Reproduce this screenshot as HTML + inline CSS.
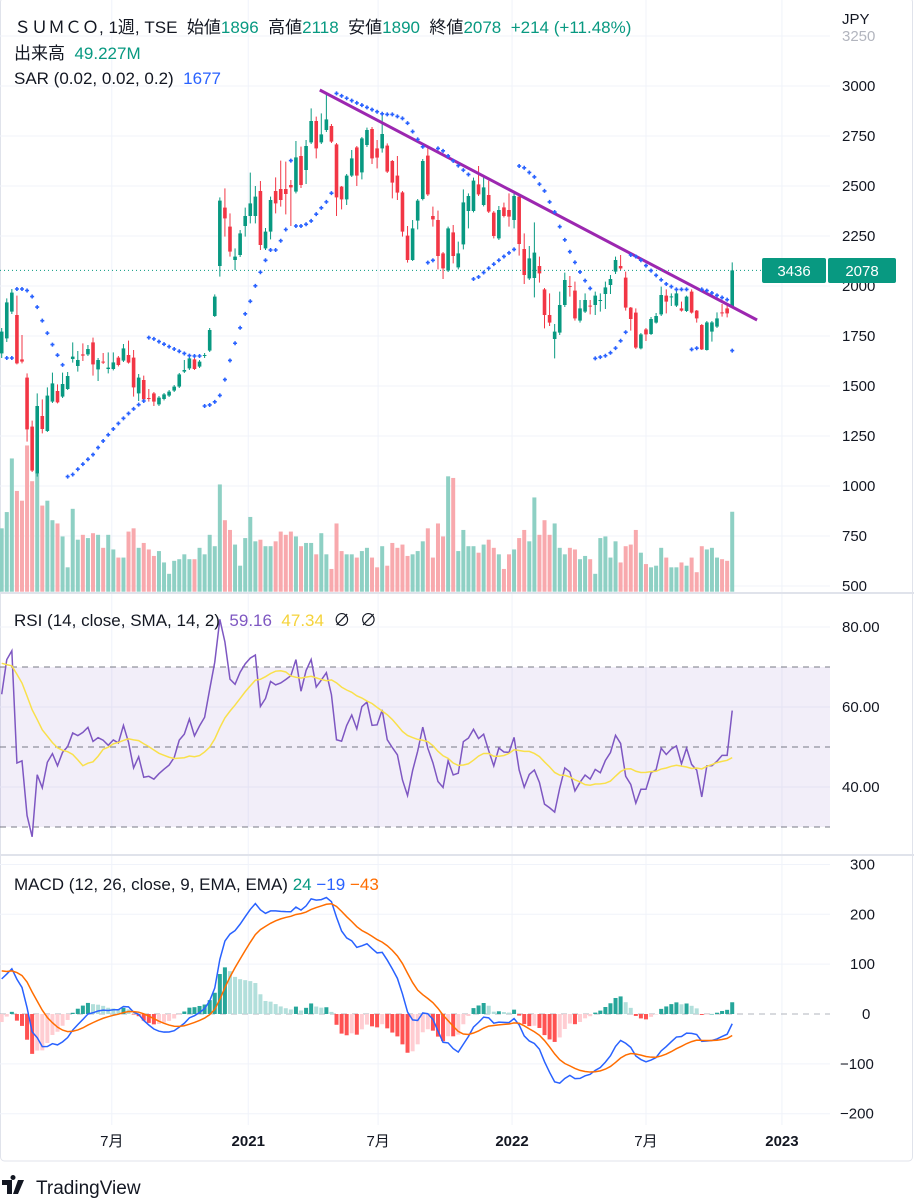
<!DOCTYPE html>
<html><head><meta charset="utf-8">
<style>
html,body{margin:0;padding:0;background:#fff;}
svg{display:block;font-family:"Liberation Sans","Noto Sans CJK JP",sans-serif;}
</style></head>
<body>
<svg id="chart" width="914" height="1200" viewBox="0 0 914 1200" xmlns="http://www.w3.org/2000/svg">
<rect x="0.5" y="-2" width="912" height="1163" rx="4" fill="#fff" stroke="#e0e3eb"/>
<g id="grid"></g>
<g id="rsiBand"></g>
<g id="vol"></g>
<g id="candles"></g>
<g id="sar"></g>
<g id="rsi"></g>
<g id="macd"></g>
<g id="axes"></g>
<line x1="0" y1="593" x2="914" y2="593" stroke="#e0e3eb" stroke-width="2"/>
<line x1="0" y1="855" x2="914" y2="855" stroke="#e0e3eb" stroke-width="2"/>
<g font-size="17" fill="#131722">
<text x="14" y="33">ＳＵＭＣＯ, 1週, TSE &#160;始値<tspan fill="#089981">1896</tspan>&#160; 高値<tspan fill="#089981">2118</tspan>&#160; 安値<tspan fill="#089981">1890</tspan>&#160; 終値<tspan fill="#089981">2078</tspan>&#160; <tspan fill="#089981">+214 (+11.48%)</tspan></text>
<text x="14" y="59">出来高 &#160;<tspan fill="#089981">49.227M</tspan></text>
<text x="14" y="84">SAR (0.02, 0.02, 0.2) &#160;<tspan fill="#2962ff">1677</tspan></text>
</g>
<text x="14" y="626" font-size="17" fill="#131722">RSI (14, close, SMA, 14, 2) &#160;<tspan fill="#7e57c2">59.16</tspan>&#160; <tspan fill="#f5d33a">47.34</tspan>&#160; ∅ &#160;∅</text>
<text x="14" y="890" font-size="17" fill="#131722">MACD (12, 26, close, 9, EMA, EMA) <tspan fill="#089981">24</tspan> <tspan fill="#2962ff">−19</tspan> <tspan fill="#ff6d00">−43</tspan></text>
<text x="842" y="24" font-size="15" fill="#131722">JPY</text>
<g>
<path d="M2 1180h10v14h-5v-9H2z M13 1180a2.5 2.5 0 1 1 0.01 0z M18 1180h6l-6 14h-5z" fill="#131722"/>
<text x="36" y="1194" font-size="19" fill="#131722">TradingView</text>
</g>
</svg>
<script>
// ---- data ----
const openP=[1663,1738,1872,1855,1633,1542,1297,1063,1350,1275,1422,1475,1447,1485,1635,1600,1658,1658,1718,1583,1622,1585,1585,1642,1627,1655,1642,1463,1530,1440,1463,1408,1435,1452,1477,1497,1572,1588,
1633,1597,1650,1677,1850,2100,2392,2297,2130,2155,2300,2350,2350,2475,2188,2272,2475,2485,2485,2505,2472,2650,2580,2718,2825,2718,2780,2800,2708,2497,2433,2552,2693,2568,2705,2785,
2688,2688,2702,2625,2552,2468,2252,2130,2327,2435,2652,2350,2330,2163,2077,2268,2093,2208,2375,2375,2508,2405,2455,2367,2238,2393,2380,2330,2447,2185,2038,2040,2100,1983,1855,1735,
1767,1905,2000,1977,1827,1872,1902,1905,1928,1960,2005,2072,2100,2042,1892,1867,1688,1783,1760,1817,1858,1952,1946,1902,1888,1875,1972,1877,1805,1680,1772,1797,1868,1888,1896];
const highP=[1790,1938,1985,1952,1755,1563,1327,1463,1433,1493,1567,1508,1567,1570,1718,1675,1713,1705,1742,1640,1665,1668,1668,1650,1710,1727,1680,1560,1552,1485,1470,1450,1465,1480,1505,1565,1630,1650,
1645,1630,1665,1790,1958,2443,2488,2363,2188,2280,2392,2567,2500,2525,2290,2447,2543,2627,2622,2530,2725,2697,2730,2888,2847,2863,2963,2810,2715,2500,2560,2680,2700,2745,2792,2795,
2730,2858,2713,2630,2650,2475,2300,2330,2435,2635,2688,2397,2377,2170,2297,2305,2222,2483,2463,2542,2600,2547,2527,2375,2400,2417,2463,2463,2455,2263,2200,2318,2147,1990,1963,1810,
1972,2067,2050,2022,1930,1963,1930,1972,1963,2022,2055,2147,2155,2072,1895,1888,1765,1790,1845,1865,1997,1983,1963,1983,1922,1952,1983,1880,1810,1825,1825,1868,1910,1910,2118];
const lowP=[1640,1720,1860,1608,1613,1222,1070,1047,1263,1270,1415,1413,1440,1480,1617,1572,1625,1650,1552,1525,1610,1563,1578,1598,1620,1612,1447,1425,1425,1422,1400,1400,1428,1445,1470,1490,1565,1580,
1580,1590,1640,1670,1845,2047,2247,2147,2080,2145,2247,2313,2313,2180,2180,2233,2363,2397,2358,2300,2463,2490,2510,2710,2638,2710,2770,2715,2350,2383,2405,2545,2500,2533,2695,2610,
2588,2667,2565,2438,2430,2247,2117,2125,2283,2428,2450,2297,2083,2035,2070,2113,2083,2183,2288,2368,2450,2398,2365,2238,2230,2343,2297,2288,2152,2010,2030,1943,2017,1788,1800,1638,
1755,1895,1947,1827,1817,1865,1858,1855,1872,1885,1960,2060,2080,1877,1777,1685,1683,1725,1755,1812,1850,1863,1900,1895,1872,1870,1862,1817,1680,1677,1722,1790,1847,1843,1890];
const closeP=[1772,1918,1967,1613,1622,1283,1077,1400,1285,1452,1513,1418,1510,1550,1647,1630,1652,1685,1608,1630,1617,1592,1618,1605,1688,1617,1493,1542,1433,1437,1422,1442,1458,1472,1497,1558,1580,1638,
1585,1622,1655,1780,1947,2427,2338,2172,2147,2263,2350,2413,2447,2205,2272,2430,2413,2430,2460,2493,2643,2505,2700,2825,2688,2758,2833,2722,2443,2433,2552,2638,2552,2738,2780,2638,
2642,2760,2572,2517,2467,2272,2130,2288,2427,2625,2458,2333,2150,2088,2288,2150,2163,2418,2450,2527,2458,2493,2372,2250,2380,2350,2347,2450,2210,2055,2138,2167,2063,1855,1817,1772,
1905,2030,1997,1838,1888,1930,1900,1952,1930,1993,2035,2130,2088,1892,1835,1692,1758,1758,1835,1850,1955,1922,1948,1963,1877,1947,1867,1838,1683,1818,1818,1838,1863,1863,2078];
const volumeM=[39,49,82,62,56,90,68,73,53,56,44,42,34,15,51,32,35,33,36,35,27,35,26,21,21,37,39,27,30,26,22,25,18,11,19,20,23,20,
20,27,23,35,28,66,44,38,29,16,33,46,31,32,28,28,31,37,35,37,34,28,30,30,23,36,23,14,42,25,23,23,21,25,27,21,
15,28,16,30,27,29,22,23,25,31,39,21,42,34,71,70,25,38,28,28,24,29,32,27,23,14,23,26,33,38,31,58,35,44,35,42,
27,23,27,26,20,22,20,11,33,34,21,31,18,28,29,38,24,17,15,16,27,21,15,15,18,16,21,12,28,26,27,21,20,19,49.2];
const warmupCloses=[1250,1230,1280,1310,1290,1260,1300,1340,1320,1370,1400,1380,1420,1450,1430,1480,1510,1500,1540,1570,1550,1600,1620,1590,1640,1680,1660,1700,1740,1720,1760,1790,1770,1810,1800,1760,1790,1740,1700,1680];
const priceTicks=[3250,3000,2750,2500,2250,2000,1750,1500,1250,1000,750,500];
const rsiTicks=[80,60,40];
const macdTicks=[300,200,100,0,-100,-200];
const timeLabels=["7月","2021","7月","2022","7月","2023"];
const timeLabelIdx=[21.7,48.6,74.2,100.6,127,153.8];
const timeLabelBold=[false,true,false,true,false,true];
const trendIdx=[62.7,148.9];
const trendPrice=[2980,1830];
const lastPrice=2078;

// ---- scales ----
const N=closeP.length;
const xOf=i=>1.7+i*5.073;
const yP=p=>86+(3000-p)*0.2;
const yV=v=>591.7-v*1.625;
const yR=r=>627+(80-r)*4;
const yM=m=>1014-m*0.4985;
const NS="http://www.w3.org/2000/svg";
function mk(tag,attrs,parent){const e=document.createElementNS(NS,tag);for(const k in attrs)e.setAttribute(k,attrs[k]);parent.appendChild(e);return e;}
const G=id=>document.getElementById(id);

// ---- indicators ----
const all=warmupCloses.concat(closeP);
function ema(arr,n){const k=2/(n+1);let out=[],v=arr[0];for(let i=0;i<arr.length;i++){v=i?arr[i]*k+v*(1-k):arr[i];out.push(v);}return out;}
const e12=ema(all,12),e26=ema(all,26);
const macdAll=e12.map((v,i)=>v-e26[i]);
const sigAll=ema(macdAll,9);
const off=warmupCloses.length;
const macdV=macdAll.slice(off),sigV=sigAll.slice(off),histV=macdV.map((v,i)=>v-sigV[i]);
let rsiAll=[],ag=0,al=0;
for(let i=1;i<all.length;i++){const d=all[i]-all[i-1];const g=Math.max(d,0),l=Math.max(-d,0);
 if(i<=14){ag+=g/14;al+=l/14;}else{ag=(ag*13+g)/14;al=(al*13+l)/14;}
 rsiAll[i]=al===0?100:100-100/(1+ag/al);}
const rsiV=rsiAll.slice(off);
const rsiMaAll=rsiAll.map((v,i)=>{if(i<14)return null;let s=0;for(let j=i-13;j<=i;j++)s+=rsiAll[j];return s/14;});
const rsiMa=rsiMaAll.slice(off);
// parabolic SAR
let sarV=[];{let up=true,af=0.02,ep=highP[0],sar=lowP[0];
 for(let i=0;i<N;i++){
  if(i>0){sar=sar+af*(ep-sar);
   if(up){sar=Math.min(sar,lowP[i-1],i>1?lowP[i-2]:lowP[i-1]);
    if(lowP[i]<sar){up=false;sar=ep;ep=lowP[i];af=0.02;}
    else if(highP[i]>ep){ep=highP[i];af=Math.min(af+0.02,0.2);}}
   else{sar=Math.max(sar,highP[i-1],i>1?highP[i-2]:highP[i-1]);
    if(highP[i]>sar){up=true;sar=ep;ep=highP[i];af=0.02;}
    else if(lowP[i]<ep){ep=lowP[i];af=Math.min(af+0.02,0.2);}}}
  sarV.push({v:sar,up:up});}
}

// ---- grid ----
const grid=G('grid');
priceTicks.forEach(p=>{const l=mk('line',{x1:0,x2:830,y1:yP(p),y2:yP(p),stroke:'#f0f3fa'},grid);

});
rsiTicks.forEach(r=>{const l=mk('line',{x1:0,x2:830,y1:yR(r),y2:yR(r),stroke:'#f0f3fa'},grid);

});
macdTicks.forEach(m=>{if(m===0)return;const l=mk('line',{x1:0,x2:830,y1:yM(m),y2:yM(m),stroke:'#f0f3fa'},grid);

});
timeLabelIdx.forEach(ix=>{const l=mk('line',{x1:xOf(ix),x2:xOf(ix),y1:0,y2:1125,stroke:'#f0f3fa'},grid);

});

// ---- RSI band ----
const band=G('rsiBand');
const br=mk('rect',{x:0,y:yR(70),width:830,height:yR(30)-yR(70),fill:'rgba(126,87,194,0.1)'},band);


[70,50,30].forEach(r=>{const l=mk('line',{x1:0,x2:830,y1:yR(r),y2:yR(r),stroke:'#787b86','stroke-dasharray':'6 5'},band);

});

// ---- volume ----
const vol=G('vol');
for(let i=0;i<N;i++){const up=closeP[i]>=openP[i];
 const r=mk('rect',{x:xOf(i)-2,y:yV(volumeM[i]),width:4,height:yV(0)-yV(volumeM[i]),fill:up?'#8ed0c4':'#f8a9ad'},vol);
 
 }

// ---- candles ----
const cg=G('candles');
for(let i=0;i<N;i++){const up=closeP[i]>=openP[i];const col=up?'#089981':'#f23645';const x=xOf(i);
 const g=mk('g',{},cg);
 
 
 mk('line',{x1:x,x2:x,y1:yP(highP[i]),y2:yP(lowP[i]),stroke:col,'stroke-width':1},g);
 const t=yP(Math.max(openP[i],closeP[i])),b=yP(Math.min(openP[i],closeP[i]));
 mk('rect',{x:x-1.8,y:t,width:3.6,height:Math.max(b-t,1),fill:col},g);}

// trend line & last price line
const tl=mk('line',{x1:xOf(trendIdx[0]),y1:yP(trendPrice[0]),x2:xOf(trendIdx[1]),y2:yP(trendPrice[1]),stroke:'#9c27b0','stroke-width':3},cg);


const pl=mk('line',{x1:0,x2:830,y1:yP(lastPrice),y2:yP(lastPrice),stroke:'#089981','stroke-dasharray':'1 3'},cg);



// ---- SAR ----
const sg=G('sar');
sarV.forEach((s,i)=>{if(i===0)return;const x=xOf(i),y=yP(s.v);
 const p=mk('path',{d:`M${x-2} ${y}h4M${x} ${y-2}v4`,stroke:'#2962ff','stroke-width':1.6},sg);
 
 });

// ---- RSI lines ----
const rg=G('rsi');
const rp=mk('path',{d:rsiV.map((v,i)=>(i?'L':'M')+xOf(i)+' '+yR(v)).join(''),fill:'none',stroke:'#7e57c2','stroke-width':1.5},rg);


const rm=mk('path',{d:rsiMa.map((v,i)=>(i?'L':'M')+xOf(i)+' '+yR(v)).join(''),fill:'none',stroke:'#f9e04b','stroke-width':1.5},rg);



// ---- MACD ----
const mg=G('macd');
const zl=mk('line',{x1:0,x2:830,y1:yM(0),y2:yM(0),stroke:'#b2b5be','stroke-dasharray':'6 5'},mg);


histV.forEach((h,i)=>{const prev=i?histV[i-1]:h;let col;
 if(h>=0)col=h>=prev?'#26a69a':'#b2dfdb';else col=h<prev?'#ff5252':'#ffcdd2';
 const y0=yM(0),y1=yM(h);
 const r=mk('rect',{x:xOf(i)-2,y:Math.min(y0,y1),width:4,height:Math.max(Math.abs(y1-y0),0.5),fill:col},mg);
 
 });
const ml=mk('path',{d:macdV.map((v,i)=>(i?'L':'M')+xOf(i)+' '+yM(v)).join(''),fill:'none',stroke:'#2962ff','stroke-width':1.5},mg);


const sl=mk('path',{d:sigV.map((v,i)=>(i?'L':'M')+xOf(i)+' '+yM(v)).join(''),fill:'none',stroke:'#ff6d00','stroke-width':1.5},mg);



// ---- axes labels ----
const ax=G('axes');
priceTicks.forEach(p=>{const t=mk('text',{x:842,y:yP(p)+5,'font-size':15,fill:p===3250?'#b2b5be':'#131722'},ax);t.textContent=p;

});
rsiTicks.forEach(r=>{const t=mk('text',{x:842,y:yR(r)+5,'font-size':15,fill:'#131722'},ax);t.textContent=r.toFixed(2);

});
macdTicks.forEach(m=>{const t=mk('text',{x:m<0?840:(m===0?862:850),y:yM(m)+5,'font-size':15,fill:'#131722'},ax);t.textContent=m<0?'−'+(-m):m;

});
timeLabels.forEach((s,k)=>{const t=mk('text',{x:xOf(timeLabelIdx[k]),y:1146,'font-size':15,'text-anchor':'middle',fill:'#131722','font-weight':timeLabelBold[k]?'bold':'normal'},ax);t.textContent=s;

});
// last price tags
const b1=mk('rect',{x:762,y:258,width:64,height:25,rx:2,fill:'#089981'},ax);


const t1=mk('text',{x:794,y:276,'font-size':15,fill:'#fff','text-anchor':'middle'},ax);t1.textContent='3436';


const b2=mk('rect',{x:828,y:258,width:68,height:25,rx:2,fill:'#089981'},ax);


const t2=mk('text',{x:862,y:276,'font-size':15,fill:'#fff','text-anchor':'middle'},ax);t2.textContent=lastPrice;


</script>
</body></html>
